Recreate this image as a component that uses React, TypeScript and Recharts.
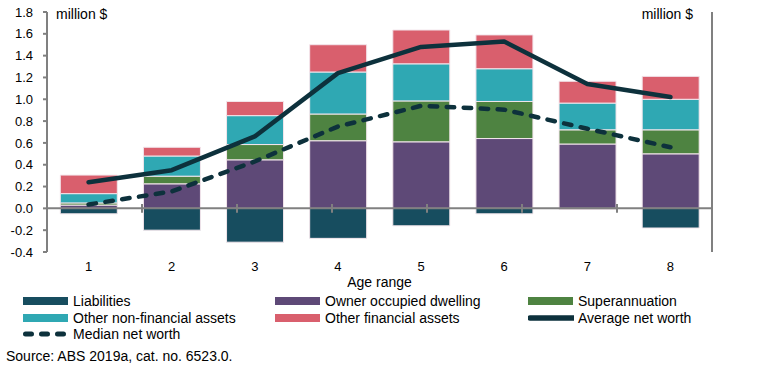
import {
  ComposedChart,
  Bar,
  Line,
  XAxis,
  YAxis,
  ReferenceLine,
  Label,
} from "recharts";

const ageRanges = ["1", "2", "3", "4", "5", "6", "7", "8"];
const liabilities = [-0.05, -0.2, -0.31, -0.275, -0.16, -0.05, -0.01, -0.18];
const ownerOccupied = [0.03, 0.225, 0.445, 0.62, 0.61, 0.64, 0.59, 0.5];
const superannuation = [0.02, 0.07, 0.14, 0.245, 0.375, 0.34, 0.13, 0.22];
const otherNonFinancial = [0.085, 0.185, 0.265, 0.385, 0.34, 0.3, 0.245, 0.28];
const otherFinancial = [0.17, 0.08, 0.13, 0.25, 0.31, 0.31, 0.2, 0.21];
const averageNetWorth = [0.24, 0.35, 0.66, 1.24, 1.48, 1.53, 1.14, 1.02];
const medianNetWorth = [0.035, 0.155, 0.43, 0.75, 0.94, 0.905, 0.73, 0.56];
const yTicks = [-0.4, -0.2, 0, 0.2, 0.4, 0.6, 0.8, 1.0, 1.2, 1.4, 1.6, 1.8];
const boundaries = [1, 2, 3, 4, 5, 6, 7];

const DARK = "#0d313c";
const GREY = "#808080";

const bars = [
  { key: "Liabilities", values: liabilities, color: "#174d5f" },
  { key: "Owner occupied dwelling", values: ownerOccupied, color: "#5e4977" },
  { key: "Superannuation", values: superannuation, color: "#4e8341" },
  { key: "Other non-financial assets", values: otherNonFinancial, color: "#2fa8b3" },
  { key: "Other financial assets", values: otherFinancial, color: "#d95f6d" },
];

const data = ageRanges.map((age, i) => {
  const row: Record<string, string | number> = { age };
  bars.forEach((b) => (row[b.key] = b.values[i]));
  row["Average net worth"] = averageNetWorth[i];
  row["Median net worth"] = medianNetWorth[i];
  return row;
});

const legendItems = [
  { label: "Liabilities", color: bars[0].color, kind: "box" },
  { label: "Owner occupied dwelling", color: bars[1].color, kind: "box" },
  { label: "Superannuation", color: bars[2].color, kind: "box" },
  { label: "Other non-financial assets", color: bars[3].color, kind: "box" },
  { label: "Other financial assets", color: bars[4].color, kind: "box" },
  { label: "Average net worth", color: DARK, kind: "line" },
  { label: "Median net worth", color: DARK, kind: "dash" },
];

const SANS = "'Liberation Sans', Arial, sans-serif";
const tickStyle = { fontSize: 13, fill: "#000", fontFamily: SANS };

function Swatch({ kind, color }: { kind: string; color: string }) {
  return (
    <svg width={46} height={10} style={{ display: "block", flex: "none" }}>
      {kind === "box" && <rect x={0} y={1} width={45} height={8} fill={color} />}
      {kind === "line" && (
        <line x1={2} y1={5} x2={45} y2={5} stroke={color} strokeWidth={5.5} strokeLinecap="round" />
      )}
      {kind === "dash" && (
        <line x1={2.5} y1={5} x2={46} y2={5} stroke={color} strokeWidth={5} strokeLinecap="round" strokeDasharray="6 10" />
      )}
    </svg>
  );
}

export default function App() {
  return (
    <div style={{ position: "absolute", left: 0, top: 0, width: 762, height: 367, background: "#fff" }}>
      <ComposedChart
        width={762}
        height={300}
        data={data}
        stackOffset="sign"
        barCategoryGap="16%"
        margin={{ top: 12, right: 0, bottom: 0, left: 0 }}
      >
        <XAxis
          dataKey="age"
          height={48}
          axisLine={false}
          tickLine={false}
          tickMargin={4}
          tick={tickStyle}
        >
          <Label
            content={({ viewBox }: any) => (
              <text
                x={viewBox.x + viewBox.width / 2}
                y={viewBox.y + 35}
                textAnchor="middle"
                fontSize={14}
                fontFamily={SANS}
                fill="#000"
              >
                Age range
              </text>
            )}
          />
        </XAxis>
        <XAxis xAxisId="grid" type="number" domain={[0, 8]} hide />
        <YAxis
          yAxisId="left"
          width={47}
          domain={[-0.4, 1.8]}
          ticks={yTicks}
          interval={0}
          tickFormatter={(v: number) => v.toFixed(1)}
          tick={tickStyle}
          stroke={GREY}
          strokeWidth={2}
          tickSize={4}
          tickMargin={10}
        >
          <Label
            content={({ viewBox }: any) => (
              <text x={viewBox.x + viewBox.width + 9} y={viewBox.y + 7} fontSize={14} fontFamily={SANS} fill="#000">
                million $
              </text>
            )}
          />
        </YAxis>
        <YAxis
          yAxisId="right"
          orientation="right"
          width={50}
          domain={[-0.4, 1.8]}
          ticks={yTicks}
          interval={0}
          tickFormatter={(v: number) => v.toFixed(1)}
          tick={tickStyle}
          stroke={GREY}
          strokeWidth={2}
          tickSize={4}
          tickMargin={10}
        >
          <Label
            content={({ viewBox }: any) => (
              <text x={viewBox.x - 19} y={viewBox.y + 7} fontSize={14} textAnchor="end" fontFamily={SANS} fill="#000">
                million $
              </text>
            )}
          />
        </YAxis>
        {bars.map((b) => (
          <Bar
            key={b.key}
            yAxisId="left"
            dataKey={b.key}
            stackId="a"
            fill={b.color}
            stroke="#f3e6ec"
            strokeWidth={1}
            isAnimationActive={false}
          />
        ))}
        <ReferenceLine yAxisId="left" y={0} stroke={GREY} strokeWidth={2} />
        {boundaries.map((x) => (
          <ReferenceLine
            key={x}
            xAxisId="grid"
            yAxisId="left"
            segment={[
              { x, y: -0.04 },
              { x, y: 0.04 },
            ]}
            stroke={GREY}
            strokeWidth={2}
          />
        ))}
        <Line
          yAxisId="left"
          dataKey="Average net worth"
          type="linear"
          stroke={DARK}
          strokeWidth={4.5}
          dot={false}
          strokeLinejoin="round"
          strokeLinecap="round"
          isAnimationActive={false}
        />
        <Line
          yAxisId="left"
          dataKey="Median net worth"
          type="linear"
          stroke={DARK}
          strokeWidth={4.5}
          strokeDasharray="7.5 9.5"
          strokeLinecap="round"
          dot={false}
          isAnimationActive={false}
        />
      </ComposedChart>
      <div
        style={{
          position: "absolute",
          left: 23,
          top: 293,
          display: "grid",
          gridTemplateColumns: "252px 253px 200px",
          gridAutoRows: "16.5px",
          fontFamily: SANS,
          fontSize: 14,
          color: "#000",
        }}
      >
        {legendItems.map((it) => (
          <div key={it.label} style={{ display: "flex", alignItems: "center", whiteSpace: "nowrap" }}>
            <Swatch kind={it.kind} color={it.color} />
            <span style={{ marginLeft: 4 }}>{it.label}</span>
          </div>
        ))}
      </div>
      <div
        style={{
          position: "absolute",
          left: 6,
          top: 348,
          fontFamily: SANS,
          fontSize: 14,
          color: "#000",
          whiteSpace: "nowrap",
        }}
      >
        Source: ABS 2019a, cat. no. 6523.0.
      </div>
    </div>
  );
}
